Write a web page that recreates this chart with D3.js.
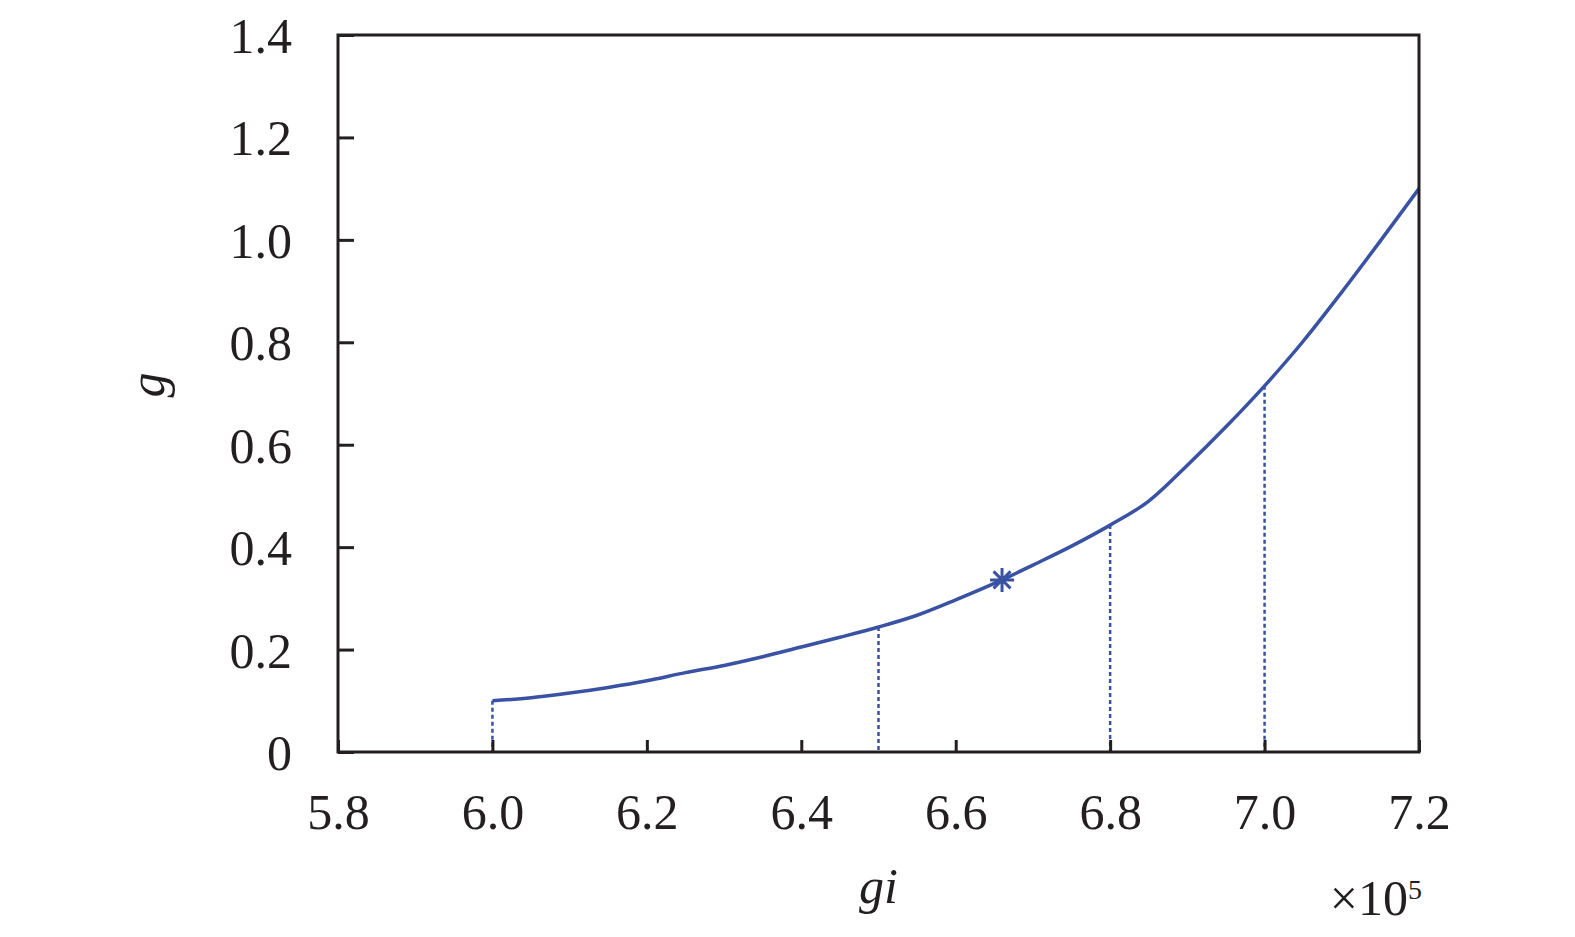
<!DOCTYPE html>
<html>
<head>
<meta charset="utf-8">
<script src="https://cdn.jsdelivr.net/npm/d3@7"></script>
<style>
  html, body { margin: 0; padding: 0; background: #fff; overflow: hidden; }
  svg { display: block; }
  svg text { font-family: "Liberation Serif", "Times New Roman", serif; fill: #231f20; }
</style>
</head>
<body>
<div id="chart"></div>
<script>
// curve g vs gi (gi in units of 1e5)
const giValues = [6.0, 6.05, 6.1, 6.15, 6.2, 6.25, 6.3, 6.35, 6.4, 6.45, 6.5, 6.55, 6.6, 6.66, 6.7, 6.75, 6.8, 6.85, 6.9, 6.95, 7.0, 7.05, 7.1, 7.15, 7.2];
const gValues  = [0.100, 0.106, 0.115, 0.126, 0.139, 0.155, 0.169, 0.186, 0.205, 0.224, 0.244, 0.267, 0.297, 0.336, 0.365, 0.402, 0.443, 0.490, 0.560, 0.635, 0.715, 0.802, 0.898, 0.998, 1.100];

// marked point and dashed drop lines
const markGi = 6.66, markG = 0.336;
const dropGi = [6.0, 6.5, 6.8, 7.0];
const dropG  = [0.100, 0.244, 0.443, 0.715];

const xTicks = [5.8, 6.0, 6.2, 6.4, 6.6, 6.8, 7.0, 7.2];
const yTicks = [0, 0.2, 0.4, 0.6, 0.8, 1.0, 1.2, 1.4];

const width = 1575, height = 937;
const margin = { left: 338, right: 156, top: 35, bottom: 185 };
const lineColor = "#3952a3";
const ink = "#231f20";

const svg = d3.select("#chart").append("svg")
    .attr("width", width)
    .attr("height", height);

const x = d3.scaleLinear().domain([5.8, 7.2]).range([margin.left, width - margin.right]);
const y = d3.scaleLinear().domain([0, 1.4]).range([height - margin.bottom, margin.top]);

// dashed drop lines
svg.append("g").selectAll("line")
    .data(dropGi)
    .join("line")
    .attr("x1", d => x(d)).attr("x2", d => x(d))
    .attr("y1", (d, i) => y(dropG[i])).attr("y2", y(0))
    .attr("stroke", lineColor)
    .attr("stroke-width", 2.5)
    .attr("stroke-dasharray", "4,3");

// curve
const line = d3.line()
    .x(d => x(d))
    .y((d, i) => y(gValues[i]))
    .curve(d3.curveMonotoneX);

svg.append("path")
    .attr("d", line(giValues))
    .attr("fill", "none")
    .attr("stroke", lineColor)
    .attr("stroke-width", 3.5);

// star marker (8-armed asterisk)
const r = 12;
const starPath = d3.range(4).map(k => {
    const a = k * Math.PI / 4;
    return `M${-r * Math.cos(a)},${-r * Math.sin(a)}L${r * Math.cos(a)},${r * Math.sin(a)}`;
}).join("");
svg.append("path")
    .attr("d", starPath)
    .attr("transform", `translate(${x(markGi)},${y(markG)})`)
    .attr("fill", "none")
    .attr("stroke", lineColor)
    .attr("stroke-width", 3);

// frame
svg.append("rect")
    .attr("x", x(5.8)).attr("y", y(1.4))
    .attr("width", x(7.2) - x(5.8)).attr("height", y(0) - y(1.4))
    .attr("fill", "none").attr("stroke", ink).attr("stroke-width", 3);

// axes (inward ticks)
const xAxis = svg.append("g")
    .attr("transform", `translate(0,${y(0)})`)
    .call(d3.axisBottom(x).tickValues(xTicks).tickSize(-12).tickPadding(41).tickFormat(d3.format(".1f")));
const yAxis = svg.append("g")
    .attr("transform", `translate(${x(5.8)},0)`)
    .call(d3.axisLeft(y).tickValues(yTicks).tickSize(-16).tickPadding(46)
        .tickFormat(d => d === 0 ? "0" : d3.format(".1f")(d)));

[xAxis, yAxis].forEach(a => {
    a.select(".domain").remove();
    a.selectAll(".tick line").attr("stroke", ink).attr("stroke-width", 3);
    a.selectAll(".tick text")
        .style("font-family", '"Liberation Serif", serif')
        .style("font-size", "50px")
        .attr("fill", ink);
});
yAxis.selectAll(".tick text").attr("dy", "0.35em");

// axis titles
svg.append("text")
    .attr("x", x(6.5))
    .attr("y", 903)
    .attr("text-anchor", "middle")
    .style("font-size", "50px")
    .style("font-style", "italic")
    .text("gi");

svg.append("text")
    .attr("transform", `translate(164,385) rotate(-90)`)
    .attr("text-anchor", "middle")
    .style("font-size", "50px")
    .style("font-style", "italic")
    .text("g");

const mult = svg.append("text")
    .attr("x", 1422)
    .attr("y", 915)
    .attr("text-anchor", "end")
    .style("font-size", "50px");
mult.append("tspan").text("×10");
mult.append("tspan").attr("dy", -16).style("font-size", "28px").text("5");
</script>
</body>
</html>
